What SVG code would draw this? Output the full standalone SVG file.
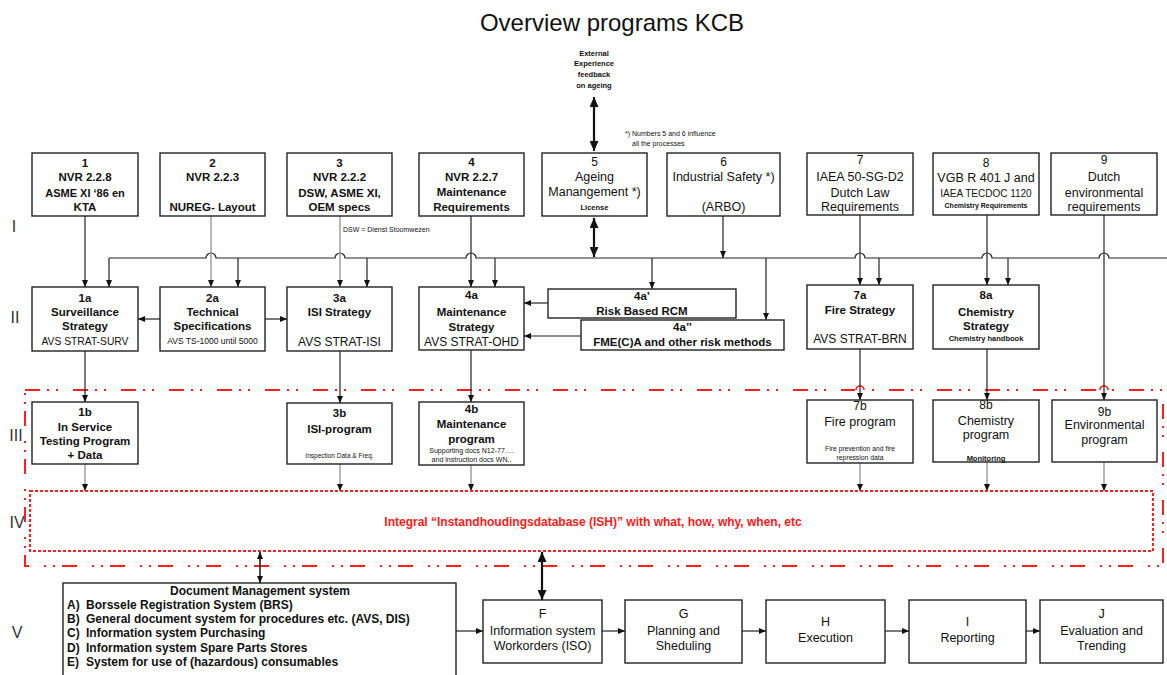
<svg xmlns="http://www.w3.org/2000/svg" width="1167" height="675" viewBox="0 0 1167 675">
  <style>
    text { font-family: "Liberation Sans", Arial, sans-serif; fill: #111; text-anchor: middle; }
    .box { fill: #fff; stroke: #222; stroke-width: 1.4; }
    .b { font-weight: bold; font-size: 11.5px; }
    .r { font-size: 12.5px; }
    .rs { font-size: 12px; }
    .wp { font-size: 12.5px; }
    .m { font-size: 10px; }
    .xs { font-size: 7.5px; }
    .xsb { font-size: 7.5px; font-weight: bold; }
    .doc { font-size: 12px; font-weight: bold; }
    .row { font-size: 16px; fill: #333; }
    .ln { fill: none; stroke: #222; stroke-width: 1.2; }
    .gr { fill: none; stroke: #888; stroke-width: 1.2; }
    .thick { fill: none; stroke: #111; stroke-width: 2.2; }
    .redline { fill: none; stroke: #ff2020; stroke-width: 2; stroke-dasharray: 15 7 2 7 2 15; }
    .reddot { fill: none; stroke: #ff2020; stroke-width: 2; stroke-dasharray: 3 2; }
    .hop { fill: none; stroke: #ff2020; stroke-width: 1.6; }
    .left { text-anchor: start; }
  </style>
  <defs>
    <marker id="ah" viewBox="0 0 7 6" refX="7" refY="3" markerWidth="7" markerHeight="6" markerUnits="userSpaceOnUse" orient="auto-start-reverse">
      <path d="M0,0 L7,3 L0,6 z" fill="#111"/>
    </marker>
    <marker id="ahb" viewBox="0 0 10 9" refX="10" refY="4.5" markerWidth="10" markerHeight="9" markerUnits="userSpaceOnUse" orient="auto-start-reverse">
      <path d="M0,0 L10,4.5 L0,9 z" fill="#111"/>
    </marker>
  </defs>

  <rect width="1167" height="675" fill="#fff"/>

  <!-- title and notes -->
  <text x="612" y="31" style="font-size:24px">Overview programs KCB</text>
  <g id="external">
    <text class="xsb" x="594" y="56">External</text>
    <text class="xsb" x="594" y="66">Experience</text>
    <text class="xsb" x="594" y="77">feedback</text>
    <text class="xsb" x="594" y="88">on ageing</text>
  </g>
  <text class="xs left" x="625" y="136" style="font-size:7px">*) Numbers 5 and 6 influence</text>
  <text class="xs left" x="632" y="146" style="font-size:7px">all the processes</text>
  <text class="xs left" x="343" y="232" style="font-size:7px">DSW = Dienst Stoomwezen</text>

  <!-- row labels -->
  <text class="row" x="14" y="232">I</text>
  <text class="row" x="15" y="323">II</text>
  <text class="row" x="16" y="441">III</text>
  <text class="row" x="17" y="528">IV</text>
  <text class="row" x="17" y="638">V</text>

  <!-- zone frames -->
  <rect class="redline" x="25" y="390" width="1138" height="176"/>
  <g id="zone-hops">
    <path d="M855,390 H866 M1099,390 H1110" stroke="#fff" stroke-width="3"/>
    <path class="hop" d="M856,390 a4,4 0 0 1 8,0 M1100,390 a4,4 0 0 1 8,0"/>
  </g>

  <!-- connectors -->
  <g id="connectors">
    <!-- external feedback to ageing management -->
    <path class="thick" d="M594,97 V151" marker-start="url(#ahb)" marker-end="url(#ahb)"/>
    <path class="thick" d="M594,218 V257" marker-start="url(#ahb)" marker-end="url(#ahb)"/>
    <!-- distribution bus with line hops -->
    <path class="ln" d="M109,258 H206 a5,5 0 0 1 10,0 H335 a5,5 0 0 1 10,0 H466 a5,5 0 0 1 10,0 H855 a5,5 0 0 1 10,0 H982 a5,5 0 0 1 10,0 H1099 a5,5 0 0 1 10,0 H1167"/>
    <!-- top requirements down to strategies -->
    <path class="ln" d="M85,216 V287" marker-end="url(#ah)"/>
    <path class="gr" d="M211,216 V287" marker-end="url(#ah)"/>
    <path class="gr" d="M340,216 V287" marker-end="url(#ah)"/>
    <path class="ln" d="M471,216 V287" marker-end="url(#ah)"/>
    <path class="ln" d="M723,216 V258" marker-end="url(#ah)"/>
    <path class="ln" d="M860,215 V285" marker-end="url(#ah)"/>
    <path class="ln" d="M987,215 V285" marker-end="url(#ah)"/>
    <path class="ln" d="M1104,215 V400" marker-end="url(#ah)"/>
    <!-- bus drops -->
    <path class="ln" d="M109,258 V287" marker-end="url(#ah)"/>
    <path class="ln" d="M238,258 V287" marker-end="url(#ah)"/>
    <path class="ln" d="M367,258 V287" marker-end="url(#ah)"/>
    <path class="ln" d="M495,258 V287" marker-end="url(#ah)"/>
    <path class="ln" d="M652,258 V289" marker-end="url(#ah)"/>
    <path class="ln" d="M766,258 V320" marker-end="url(#ah)"/>
    <path class="ln" d="M879,258 V285" marker-end="url(#ah)"/>
    <path class="ln" d="M1008,258 V285" marker-end="url(#ah)"/>
    <!-- row II side links -->
    <path class="ln" d="M160,319 H138" marker-end="url(#ah)"/>
    <path class="ln" d="M265,319 H287" marker-end="url(#ah)"/>
    <path class="ln" d="M548,303 H524" marker-end="url(#ah)"/>
    <path class="ln" d="M581,336 H524" marker-end="url(#ah)"/>
    <!-- strategies to programs -->
    <path class="ln" d="M85,351 V402" marker-end="url(#ah)"/>
    <path class="ln" d="M340,351 V403" marker-end="url(#ah)"/>
    <path class="ln" d="M471,350 V402" marker-end="url(#ah)"/>
    <path class="ln" d="M860,349 V400" marker-end="url(#ah)"/>
    <path class="ln" d="M987,349 V400" marker-end="url(#ah)"/>
    <!-- programs to database -->
    <path class="gr" d="M85,464 V491" marker-end="url(#ah)"/>
    <path class="gr" d="M340,464 V491" marker-end="url(#ah)"/>
    <path class="gr" d="M471,465 V491" marker-end="url(#ah)"/>
    <path class="gr" d="M860,463 V491" marker-end="url(#ah)"/>
    <path class="gr" d="M987,462 V491" marker-end="url(#ah)"/>
    <path class="gr" d="M1104,462 V491" marker-end="url(#ah)"/>
    <!-- database links -->
    <path class="ln" style="stroke-width:1.6" d="M260,552 V583" marker-start="url(#ah)" marker-end="url(#ah)"/>
    <path class="thick" d="M542,552 V600" marker-start="url(#ahb)" marker-end="url(#ahb)"/>
    <!-- work process chain -->
    <path class="ln" d="M456,631 H483" marker-end="url(#ah)"/>
    <path class="ln" d="M602,631 H625" marker-end="url(#ah)"/>
    <path class="ln" d="M742,631 H766" marker-end="url(#ah)"/>
    <path class="ln" d="M885,631 H909" marker-end="url(#ah)"/>
    <path class="ln" d="M1026,631 H1040" marker-end="url(#ah)"/>
  </g>

  <!-- row I: requirements -->
  <g id="n1">
    <rect class="box" x="32" y="153" width="106" height="63"/>
    <text class="b" x="85" y="167">1</text>
    <text class="b" x="85" y="181">NVR 2.2.8</text>
    <text class="b" x="85" y="197" style="font-size:11px">ASME XI ‘86 en</text>
    <text class="b" x="85" y="211">KTA</text>
  </g>
  <g id="n2">
    <rect class="box" x="160" y="153" width="105" height="63"/>
    <text class="b" x="212.5" y="167">2</text>
    <text class="b" x="212.5" y="181">NVR 2.2.3</text>
    <text class="b" x="212.5" y="211">NUREG- Layout</text>
  </g>
  <g id="n3">
    <rect class="box" x="287" y="153" width="105" height="63"/>
    <text class="b" x="339.5" y="167">3</text>
    <text class="b" x="339.5" y="181">NVR 2.2.2</text>
    <text class="b" x="339.5" y="197">DSW, ASME XI,</text>
    <text class="b" x="339.5" y="211">OEM specs</text>
  </g>
  <g id="n4">
    <rect class="box" x="419" y="153" width="105" height="63"/>
    <text class="b" x="471.5" y="166">4</text>
    <text class="b" x="471.5" y="181">NVR 2.2.7</text>
    <text class="b" x="471.5" y="196">Maintenance</text>
    <text class="b" x="471.5" y="211">Requirements</text>
  </g>
  <g id="n5">
    <rect class="box" x="542" y="153" width="105" height="63"/>
    <text class="rs" x="594.5" y="166">5</text>
    <text class="r" x="594.5" y="181">Ageing</text>
    <text class="r" x="594.5" y="196">Manangement *)</text>
    <text class="xsb" x="594.5" y="210">License</text>
  </g>
  <g id="n6">
    <rect class="box" x="667" y="153" width="113" height="63"/>
    <text class="rs" x="723.5" y="166">6</text>
    <text class="r" x="723.5" y="181">Industrial Safety *)</text>
    <text class="r" x="723.5" y="211">(ARBO)</text>
  </g>
  <g id="n7">
    <rect class="box" x="807" y="153" width="106" height="62"/>
    <text class="rs" x="860" y="164">7</text>
    <text class="r" x="860" y="181">IAEA 50-SG-D2</text>
    <text class="r" x="860" y="197">Dutch Law</text>
    <text class="r" x="860" y="211">Requirements</text>
  </g>
  <g id="n8">
    <rect class="box" x="933" y="153" width="106" height="62"/>
    <text class="rs" x="986" y="167">8</text>
    <text class="r" x="986" y="182">VGB R 401 J and</text>
    <text class="m" x="986" y="197">IAEA TECDOC 1120</text>
    <text class="xsb" x="986" y="208" style="font-size:7px">Chemistry Requirements</text>
  </g>
  <g id="n9">
    <rect class="box" x="1051" y="153" width="106" height="62"/>
    <text class="rs" x="1104" y="164">9</text>
    <text class="r" x="1104" y="181">Dutch</text>
    <text class="r" x="1104" y="197">environmental</text>
    <text class="r" x="1104" y="211">requirements</text>
  </g>

  <!-- row II: strategies -->
  <g id="n1a">
    <rect class="box" x="32" y="287" width="106" height="64"/>
    <text class="b" x="85" y="302">1a</text>
    <text class="b" x="85" y="316">Surveillance</text>
    <text class="b" x="85" y="330">Strategy</text>
    <text x="85" y="345" style="font-size:10.3px">AVS STRAT-SURV</text>
  </g>
  <g id="n2a">
    <rect class="box" x="160" y="287" width="105" height="64"/>
    <text class="b" x="212.5" y="302">2a</text>
    <text class="b" x="212.5" y="316">Technical</text>
    <text class="b" x="212.5" y="330">Specifications</text>
    <text x="212.5" y="344" style="font-size:8.5px">AVS TS-1000 until 5000</text>
  </g>
  <g id="n3a">
    <rect class="box" x="287" y="287" width="105" height="64"/>
    <text class="b" x="339.5" y="302">3a</text>
    <text class="b" x="339.5" y="316">ISI Strategy</text>
    <text class="rs" x="339.5" y="346">AVS STRAT-ISI</text>
  </g>
  <g id="n4a">
    <rect class="box" x="419" y="287" width="105" height="63"/>
    <text class="b" x="471.5" y="299">4a</text>
    <text class="b" x="471.5" y="316">Maintenance</text>
    <text class="b" x="471.5" y="331">Strategy</text>
    <text class="rs" x="471.5" y="346">AVS STRAT-OHD</text>
  </g>
  <g id="n4a1">
    <rect class="box" x="548" y="289" width="188" height="29"/>
    <text class="b" x="642" y="300">4a’</text>
    <text class="b" x="642" y="315">Risk Based RCM</text>
  </g>
  <g id="n4a2">
    <rect class="box" x="581" y="320" width="203" height="30"/>
    <text class="b" x="682.5" y="331">4a’’</text>
    <text class="b" x="682.5" y="346">FME(C)A and other risk methods</text>
  </g>
  <g id="n7a">
    <rect class="box" x="807" y="285" width="106" height="64"/>
    <text class="b" x="860" y="299">7a</text>
    <text class="b" x="860" y="314">Fire Strategy</text>
    <text class="rs" x="860" y="343">AVS STRAT-BRN</text>
  </g>
  <g id="n8a">
    <rect class="box" x="933" y="285" width="106" height="64"/>
    <text class="b" x="986" y="299">8a</text>
    <text class="b" x="986" y="316">Chemistry</text>
    <text class="b" x="986" y="330">Strategy</text>
    <text class="xsb" x="986" y="341">Chemistry handbook</text>
  </g>

  <!-- row III: programs -->
  <g id="n1b">
    <rect class="box" x="32" y="402" width="106" height="62"/>
    <text class="b" x="85" y="416">1b</text>
    <text class="b" x="85" y="431">In Service</text>
    <text class="b" x="85" y="445">Testing Program</text>
    <text class="b" x="85" y="459">+ Data</text>
  </g>
  <g id="n3b">
    <rect class="box" x="287" y="403" width="105" height="61"/>
    <text class="b" x="339.5" y="417">3b</text>
    <text class="b" x="339.5" y="433">ISI-program</text>
    <text x="339.5" y="458" style="font-size:6.5px">Inspection Data &amp; Freq.</text>
  </g>
  <g id="n4b">
    <rect class="box" x="419" y="402" width="105" height="63"/>
    <text class="b" x="471.5" y="413">4b</text>
    <text class="b" x="471.5" y="428">Maintenance</text>
    <text class="b" x="471.5" y="443">program</text>
    <text x="471.5" y="453" style="font-size:7px">Supporting docs N12-77….</text>
    <text x="471.5" y="462" style="font-size:7px">and instruction docs WN..</text>
  </g>
  <g id="n7b">
    <rect class="box" x="807" y="400" width="106" height="63"/>
    <text class="rs" x="860" y="410">7b</text>
    <text class="r" x="860" y="426">Fire program</text>
    <text x="860" y="451" style="font-size:6.8px">Fire prevention and fire</text>
    <text x="860" y="460" style="font-size:6.8px">repression data</text>
  </g>
  <g id="n8b">
    <rect class="box" x="933" y="400" width="106" height="62"/>
    <text class="rs" x="986" y="409">8b</text>
    <text class="r" x="986" y="425">Chemistry</text>
    <text class="r" x="986" y="439">program</text>
    <text class="xsb" x="986" y="461">Monitoring</text>
  </g>
  <g id="n9b">
    <rect class="box" x="1052" y="400" width="105" height="62"/>
    <text class="rs" x="1104.5" y="416">9b</text>
    <text class="r" x="1104.5" y="429">Environmental</text>
    <text class="r" x="1104.5" y="444">program</text>
  </g>

  <!-- row IV: maintenance database -->
  <g id="ish">
    <rect class="reddot" x="30" y="491" width="1123" height="60"/>
    <text x="593" y="526" style="font-size:12px;font-weight:bold;fill:#ff1a1a">Integral “Instandhoudingsdatabase (ISH)” with what, how, why, when, etc</text>
  </g>

  <!-- row V: information systems and work process -->
  <g id="docs">
    <rect class="box" x="63" y="583" width="393" height="100"/>
    <text class="doc" x="260" y="595">Document Management system</text>
    <text class="doc left" x="67" y="609">A)</text>
    <text class="doc left" x="86" y="609">Borssele Registration System (BRS)</text>
    <text class="doc left" x="67" y="623">B)</text>
    <text class="doc left" x="86" y="623">General document system for procedures etc. (AVS, DIS)</text>
    <text class="doc left" x="67" y="637">C)</text>
    <text class="doc left" x="86" y="637">Information system Purchasing</text>
    <text class="doc left" x="67" y="652">D)</text>
    <text class="doc left" x="86" y="652">Information system Spare Parts Stores</text>
    <text class="doc left" x="67" y="666">E)</text>
    <text class="doc left" x="86" y="666">System for use of (hazardous) consumables</text>
  </g>
  <g id="nF">
    <rect class="box" x="483" y="600" width="119" height="63"/>
    <text class="wp" x="542.5" y="618">F</text>
    <text class="wp" x="542.5" y="635">Information system</text>
    <text class="wp" x="542.5" y="650">Workorders (ISO)</text>
  </g>
  <g id="nG">
    <rect class="box" x="625" y="600" width="117" height="63"/>
    <text class="wp" x="683.5" y="618">G</text>
    <text class="wp" x="683.5" y="635">Planning and</text>
    <text class="wp" x="683.5" y="650">Sheduling</text>
  </g>
  <g id="nH">
    <rect class="box" x="766" y="600" width="119" height="63"/>
    <text class="wp" x="825.5" y="626">H</text>
    <text class="wp" x="825.5" y="642">Execution</text>
  </g>
  <g id="nI">
    <rect class="box" x="909" y="600" width="117" height="63"/>
    <text class="wp" x="967.5" y="626">I</text>
    <text class="wp" x="967.5" y="642">Reporting</text>
  </g>
  <g id="nJ">
    <rect class="box" x="1040" y="600" width="123" height="63"/>
    <text class="wp" x="1101.5" y="618">J</text>
    <text class="wp" x="1101.5" y="635">Evaluation and</text>
    <text class="wp" x="1101.5" y="650">Trending</text>
  </g>
</svg>
